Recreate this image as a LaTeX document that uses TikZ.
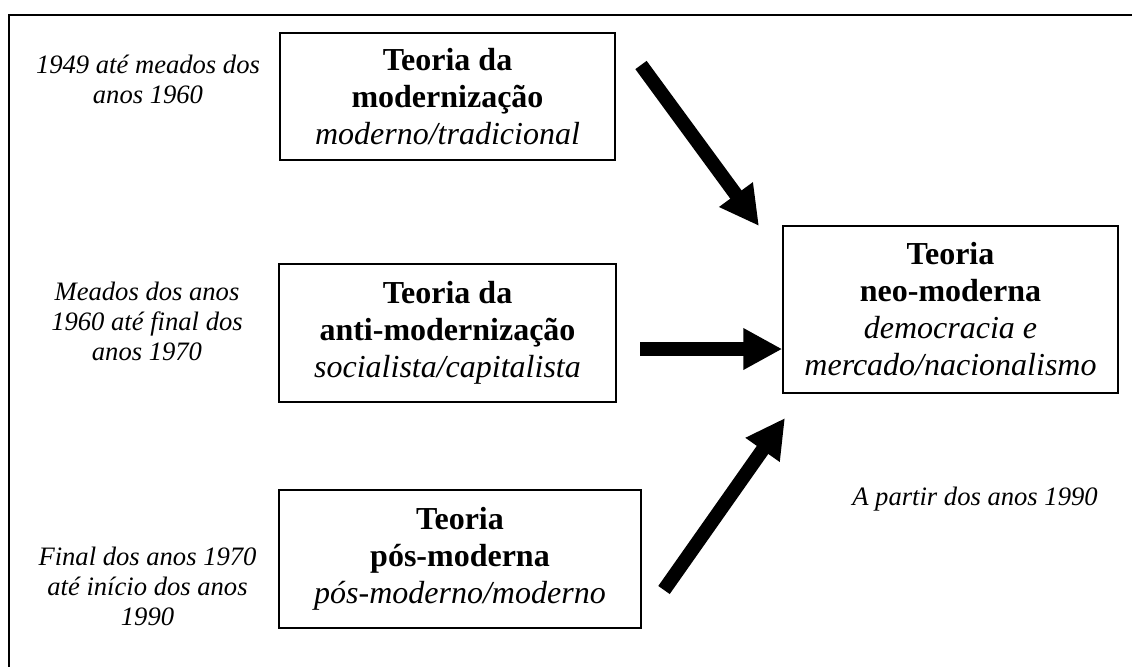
\documentclass[tikz,border=0pt]{standalone}
\usepackage{fontspec}
\setmainfont{Liberation Serif}
\usetikzlibrary{arrows.meta}
\begin{document}
\begin{tikzpicture}[x=0.5pt,y=-0.5pt,
  teoria/.style={draw,line width=0.7pt,align=center,inner sep=0pt,font=\fontsize{16}{18.5}\selectfont},
  periodo/.style={align=center,inner sep=0pt,font=\fontsize{13.3}{15}\selectfont\itshape},
  seta/.style={line width=7pt,-{Triangle[length=19.5pt,width=19.5pt]}}]
  \useasboundingbox (0,0) rectangle (1132,666);
  \draw[line width=0.75pt] (9,15) rectangle (1160,700);
  % teorias
  \node[teoria,minimum width=167.5pt,minimum height=63.5pt] (M) at (447.5,96.5)
    {\textbf{Teoria da}\\\textbf{modernização}\\\textit{moderno/tradicional}};
  \node[teoria,minimum width=168.5pt,minimum height=69pt] (A) at (447.5,333)
    {\textbf{Teoria da}\\\textbf{anti-modernização}\\\textit{socialista/capitalista}};
  \node[teoria,minimum width=181pt,minimum height=69pt] (P) at (460,559)
    {\textbf{Teoria}\\\textbf{pós-moderna}\\\textit{pós-moderno/moderno}};
  \node[teoria,minimum width=167.5pt,minimum height=83.5pt] (N) at (950.5,309.5)
    {\textbf{Teoria}\\\textbf{neo-moderna}\\\textit{democracia e}\\\textit{mercado/nacionalismo}};
  % periodos
  \node[periodo] (pM) at (148,79) {1949 até meados dos\\anos 1960};
  \node[periodo] (pA) at (147,321) {Meados dos anos\\1960 até final dos\\anos 1970};
  \node[periodo] (pP) at (147.5,586) {Final dos anos 1970\\até início dos anos\\1990};
  \node[periodo] (pN) at (975,499) {A partir dos anos 1990};
  % setas
  \coordinate (s1) at (641,65);
  \coordinate (t1) at (759,226);
  \coordinate (s2) at (640,349);
  \coordinate (s3) at (664,590);
  \coordinate (t3) at (785,418);
  \draw[seta] (s1) -- (t1);
  \draw[seta] (s2) -- (s2 -| N.west);
  \draw[seta] (s3) -- (t3);
\end{tikzpicture}
\end{document}
